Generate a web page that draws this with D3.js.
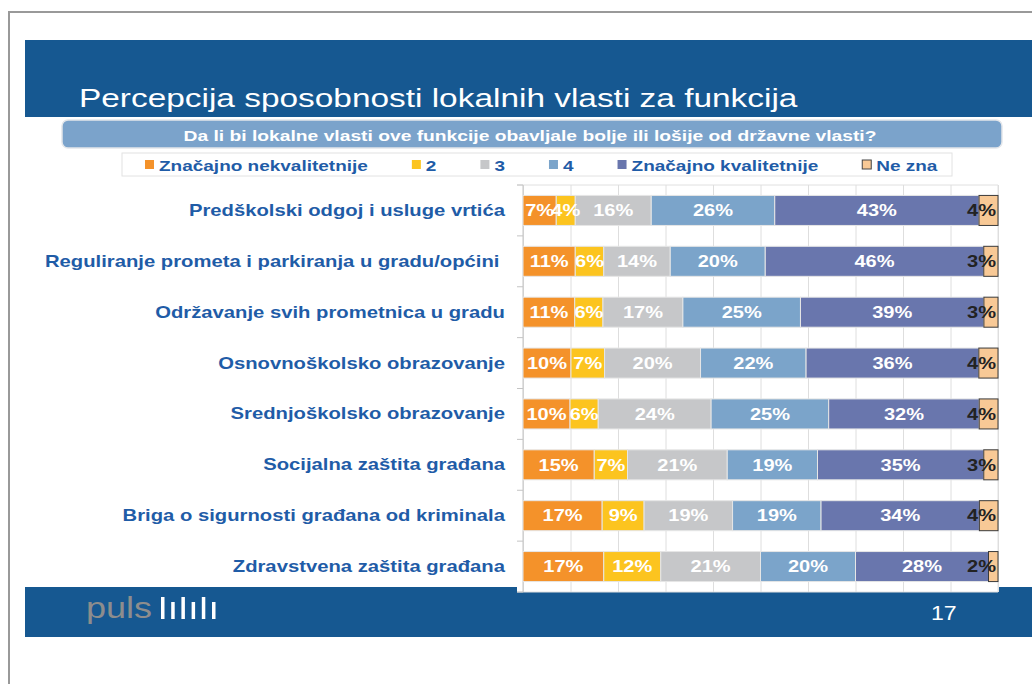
<!DOCTYPE html>
<html>
<head>
<meta charset="utf-8">
<script src="https://cdn.jsdelivr.net/npm/d3@7"></script>
<style>
  html, body { margin: 0; padding: 0; background: #fff; }
  svg text { font-family: "Liberation Sans", Arial, sans-serif; white-space: pre; }
</style>
</head>
<body>
<div id="chart"></div>
<script>
'use strict';

// --- data ---
var categories = [
  'Predškolski odgoj i usluge vrtića',
  'Reguliranje prometa i parkiranja u gradu/općini ',
  'Održavanje svih prometnica u gradu',
  'Osnovnoškolsko obrazovanje',
  'Srednjoškolsko obrazovanje',
  'Socijalna zaštita građana',
  'Briga o sigurnosti građana od kriminala',
  'Zdravstvena zaštita građana'
];
var seriesNames = ['Značajno nekvalitetnije', '2', '3', '4', 'Značajno kvalitetnije', 'Ne zna'];
var vNekvalitetnije = [7, 11, 11, 10, 10, 15, 17, 17];
var v2 = [4, 6, 6, 7, 6, 7, 9, 12];
var v3 = [16, 14, 17, 20, 24, 21, 19, 21];
var v4 = [26, 20, 25, 22, 25, 19, 19, 20];
var vKvalitetnije = [43, 46, 39, 36, 32, 35, 34, 28];
var vNeZna = [4, 3, 3, 4, 4, 3, 4, 2];
var xTicks = [0, 0.1, 0.2, 0.3, 0.4, 0.5, 0.6, 0.7, 0.8, 0.9, 1];

var titleText = 'Percepcija sposobnosti lokalnih vlasti za funkcija';
var questionText = 'Da li bi lokalne vlasti ove funkcije obavljale bolje ili lošije od državne vlasti?';
var pageNumber = '17';

var colors = ['#f4922a', '#fcc41f', '#c6c7c9', '#7ba4ca', '#6976ad', '#f8c996'];
var labelColors = ['#fff', '#fff', '#fff', '#fff', '#fff', '#222'];

// slide text is rendered a bit wide, so stretch glyphs horizontally
var SX = 1.25;
var navy = '#165891';
var labelBlue = '#1f5ca7';

var W = 1032, H = 684;
var svg = d3.select('#chart').append('svg')
  .attr('width', W).attr('height', H);

function wideText(parent, x, y, str, sx) {
  return parent.append('text')
    .attr('transform', 'translate(' + x + ',' + y + ') scale(' + (sx || SX) + ',1)')
    .text(str);
}

// slide frame
svg.append('path')
  .attr('d', 'M9,' + H + 'V12H' + W)
  .attr('fill', 'none').attr('stroke', '#999').attr('stroke-width', 2);

// header band + title
svg.append('rect').attr('x', 25).attr('y', 40).attr('width', W - 25).attr('height', 77).attr('fill', navy);
wideText(svg, 79, 107, titleText, 1.285)
  .attr('fill', '#fff').attr('font-size', 26);

// question box
svg.append('rect').attr('x', 62).attr('y', 120).attr('width', 940).attr('height', 28)
  .attr('rx', 6).attr('fill', '#7ba3cb').attr('stroke', '#e3e6ea').attr('stroke-width', 1.5);
wideText(svg, 530, 140.5, questionText)
  .attr('text-anchor', 'middle').attr('fill', '#fff')
  .attr('font-weight', 'bold').attr('font-size', 15.4);

// legend
svg.append('rect').attr('x', 122).attr('y', 153).attr('width', 830).attr('height', 23)
  .attr('fill', '#fff').attr('stroke', '#e2e2e2');
var lx = 145;
seriesNames.forEach(function(name, i) {
  svg.append('rect').attr('x', lx).attr('y', 160).attr('width', 9).attr('height', 9)
    .attr('fill', colors[i])
    .attr('stroke', i === 5 ? '#444' : 'none').attr('stroke-width', 1);
  var t = wideText(svg, lx + 14, 170.5, name)
    .attr('fill', labelBlue).attr('font-weight', 'bold').attr('font-size', 15.2);
  lx += 14 + t.node().getComputedTextLength() * SX + 44;
});

// footer band
svg.append('rect').attr('x', 25).attr('y', 587).attr('width', W - 25).attr('height', 50).attr('fill', navy);
wideText(svg, 86, 618, 'puls', 1.2).attr('fill', '#8d8d8d').attr('font-size', 30);
var logoBars = [22, 17, 22, 17, 22, 17];
logoBars.forEach(function(h, i) {
  svg.append('rect').attr('x', 161 + i * 10.2).attr('y', 619 - h)
    .attr('width', 3.5).attr('height', h).attr('fill', '#fff');
});
wideText(svg, 931, 620, pageNumber, 1.1).attr('fill', '#fff').attr('font-size', 21);

// --- chart ---
var plot = { left: 523, right: 998, top: 185, bottom: 592 };

var x = d3.scaleLinear().domain([0, 1]).range([plot.left, plot.right]);
var y = d3.scaleBand().domain(categories).range([plot.top, plot.bottom])
  .paddingInner(0.41).paddingOuter(0.205);

var rows = categories.map(function(c, i) {
  return {
    cat: c,
    s0: vNekvalitetnije[i], s1: v2[i], s2: v3[i],
    s3: v4[i], s4: vKvalitetnije[i], s5: vNeZna[i]
  };
});
var keys = ['s0', 's1', 's2', 's3', 's4', 's5'];
var stacked = d3.stack().keys(keys).offset(d3.stackOffsetExpand)(rows);

var chart = svg.append('g');

// plot area background + frame (no left edge, the axis line is there)
chart.append('rect')
  .attr('x', plot.left - 6).attr('y', plot.top)
  .attr('width', plot.right - plot.left + 6).attr('height', plot.bottom - plot.top)
  .attr('fill', '#fff');
chart.append('path')
  .attr('d', 'M' + (plot.left - 6) + ',' + plot.top + 'H' + plot.right + 'V' + plot.bottom + 'H' + (plot.left - 6))
  .attr('fill', 'none').attr('stroke', '#e0e0e0');

// vertical gridlines
chart.append('g')
  .attr('transform', 'translate(0,' + plot.bottom + ')')
  .call(d3.axisBottom(x).tickValues(xTicks).tickSize(plot.bottom - plot.top).tickFormat(''))
  .call(function(g) {
    g.select('.domain').remove();
    g.selectAll('.tick line').attr('stroke', '#dedede').attr('y2', -(plot.bottom - plot.top));
  });

// category axis: line + ticks between bands
var step = y.step();
var axisG = chart.append('g').attr('stroke', '#c4c4c4');
axisG.append('line')
  .attr('x1', plot.left).attr('x2', plot.left)
  .attr('y1', plot.top).attr('y2', plot.bottom);
d3.range(categories.length + 1).forEach(function(k) {
  var yy = plot.top + k * step;
  axisG.append('line')
    .attr('x1', plot.left - 6).attr('x2', plot.left)
    .attr('y1', yy).attr('y2', yy);
});

// category labels
chart.append('g').selectAll('text')
  .data(categories)
  .join('text')
  .attr('transform', function(d) {
    return 'translate(505,' + (y(d) + y.bandwidth() / 2 + 5.5) + ') scale(' + SX + ',1)';
  })
  .attr('text-anchor', 'end')
  .attr('fill', labelBlue)
  .attr('font-weight', 'bold')
  .attr('font-size', 16.2)
  .text(function(d) { return d; });

// bars
var layers = chart.append('g').selectAll('g')
  .data(stacked)
  .join('g')
  .attr('fill', function(d, i) { return colors[i]; });

layers.selectAll('rect')
  .data(function(d) { return d; })
  .join('rect')
  .attr('x', function(d) { return x(d[0]); })
  .attr('y', function(d) { return y(d.data.cat); })
  .attr('width', function(d) { return x(d[1]) - x(d[0]); })
  .attr('height', y.bandwidth())
  .attr('stroke', function() {
    return this.parentNode.__data__.index === 5 ? '#3a3a3a' : '#e6e6e6';
  })
  .attr('stroke-width', 1);

// value labels
stacked.forEach(function(layer, li) {
  layer.forEach(function(d) {
    var val = d.data[keys[li]];
    var cx = (x(d[0]) + x(d[1])) / 2;
    var cy = y(d.data.cat) + y.bandwidth() / 2 + 5.8;
    var t = wideText(chart, cx, cy, val + '%')
      .attr('text-anchor', 'middle')
      .attr('fill', labelColors[li])
      .attr('font-weight', 'bold')
      .attr('font-size', 16);
    // keep labels inside the plot area, like the spreadsheet does
    var w = t.node().getComputedTextLength() * SX;
    if (cx + w / 2 > plot.right - 2) {
      cx = plot.right - 2 - w / 2;
      t.attr('transform', 'translate(' + cx + ',' + cy + ') scale(' + SX + ',1)');
    }
  });
});
</script>
</body>
</html>
